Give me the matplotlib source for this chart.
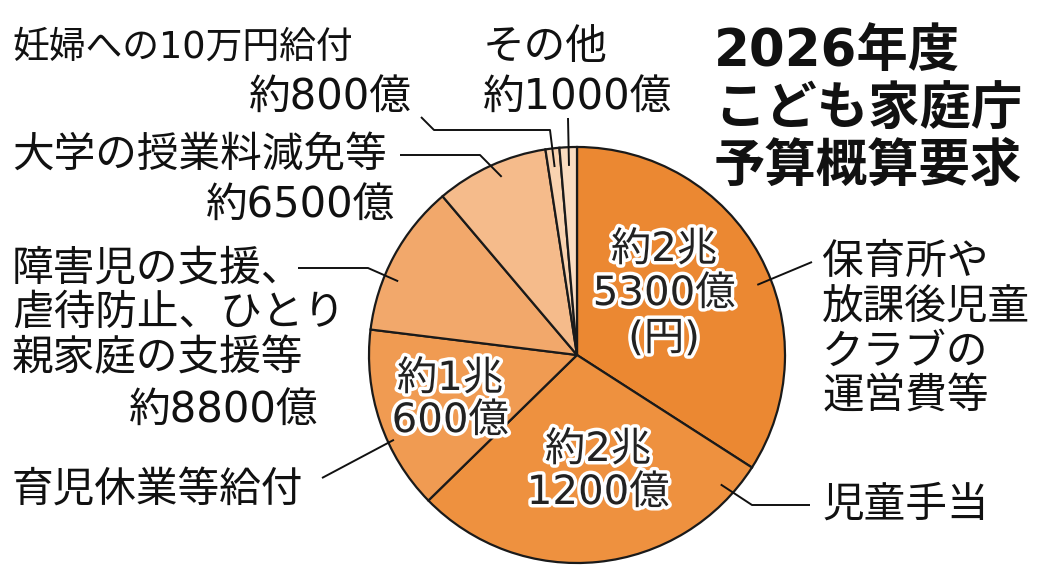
import numpy as np
import matplotlib
matplotlib.use("Agg")
import matplotlib.pyplot as plt
import matplotlib.patheffects as pe

FAM = ['DejaVu Sans', 'Noto Sans CJK JP']
plt.rcParams['font.family'] = FAM

# ---- data (億円) ----
categories = ["保育所や放課後児童クラブの運営費等", "児童手当", "育児休業等給付",
              "障害児の支援、虐待防止、ひとり親家庭の支援等", "大学の授業料減免等",
              "妊婦への10万円給付", "その他"]
values = [25300, 21200, 10600, 8800, 6500, 800, 1000]
inner_labels = ["約2兆\n5300億\n(円)", "約2兆\n1200億", "約1兆\n600億"]
colors = ["#eb8832", "#ee913f", "#f09b52", "#f2a86b", "#f5bb8b", "#f9d3b0", "#fadcc0"]
title_lines = ["2026年度", "こども家庭庁", "予算概算要求"]

W, H = 1049, 578
fig = plt.figure(figsize=(W / 100, H / 100), dpi=100)
ax = fig.add_axes([0, 0, 1, 1])

cx, cy, R = 577, 355, 208
wedges, _ = ax.pie(values, colors=colors, startangle=-90, counterclock=True,
                   center=(cx, cy), radius=R, frame=True,
                   wedgeprops=dict(edgecolor='#1a1a1a', linewidth=1.6))
ax.set_xlim(0, W)
ax.set_ylim(H, 0)
ax.set_aspect('equal')
ax.axis('off')

tot = float(sum(values))
cum = np.concatenate([[0], np.cumsum(values)]) / tot * 360.0


def anchor(i, pos, rf):
    a = np.deg2rad(cum[i] + pos * (cum[i + 1] - cum[i]))
    return cx + rf * R * np.sin(a), cy - rf * R * np.cos(a)


halo = [pe.withStroke(linewidth=5, foreground='white')]
fs_in = 29
in_pos = [(664, [250, 294, 339]), (598, [450, 493]), (450, [379, 421])]
for lab, (x, ys) in zip(inner_labels, in_pos):
    for line, y in zip(lab.split("\n"), ys):
        ax.text(x, y, line, ha='center', va='center', fontsize=fs_in,
                color='#222222', path_effects=halo)

fs = 30
tc = '#111111'
lw = 1.4
# leaders: (wedge index, pos in wedge, radius fraction, path points)
leaders = [
    (0, 0.56, 0.93, [(812, 262)]),
    (1, 0.09, 0.93, [(752, 505), (810, 505)]),
    (2, 0.38, 0.97, [(322, 478)]),
    (3, 0.36, 0.93, [(368, 268), (298, 268)]),
    (4, 0.55, 0.93, [(480, 155), (400, 155)]),
    (5, 0.5, 0.91, [(550, 130), (434, 130), (421, 117)]),
    (6, 0.5, 0.91, [(568, 118)]),
]
for i, p, rf, pts in leaders:
    ax0, ay0 = anchor(i, p, rf)
    xs = [ax0] + [q[0] for q in pts]
    ys = [ay0] + [q[1] for q in pts]
    ax.plot(xs, ys, color='#111111', lw=lw, solid_capstyle='butt')


def lines(x, ys, texts, ha='left', size=fs):
    for t, y in zip(texts, ys):
        ax.text(x, y, t, ha=ha, va='center', fontsize=size, color=tc)


lines(822, [262, 307, 352, 397], ["保育所や", "放課後児童", "クラブの", "運営費等"])
lines(822, [505], ["児童手当"])
lines(12, [490], ["育児休業等給付"])
lines(12, [268, 313, 358], ["障害児の支援、", "虐待防止、ひとり", "親家庭の支援等"])
lines(318, [410], ["約8800億"], ha='right')
lines(12, [155], ["大学の授業料減免等"])
lines(395, [205], ["約6500億"], ha='right')
lines(12, [47], ["妊婦への10万円給付"], size=26.5)
lines(412, [97], ["約800億"], ha='right')
lines(483, [47, 97], ["その他", "約1000億"])

for t, y in zip(title_lines, [52, 110, 167]):
    ax.text(714, y, t, ha='left', va='center', fontsize=37, fontweight='bold', color='#111111')

fig.savefig("out.png", dpi=100, facecolor='white')
